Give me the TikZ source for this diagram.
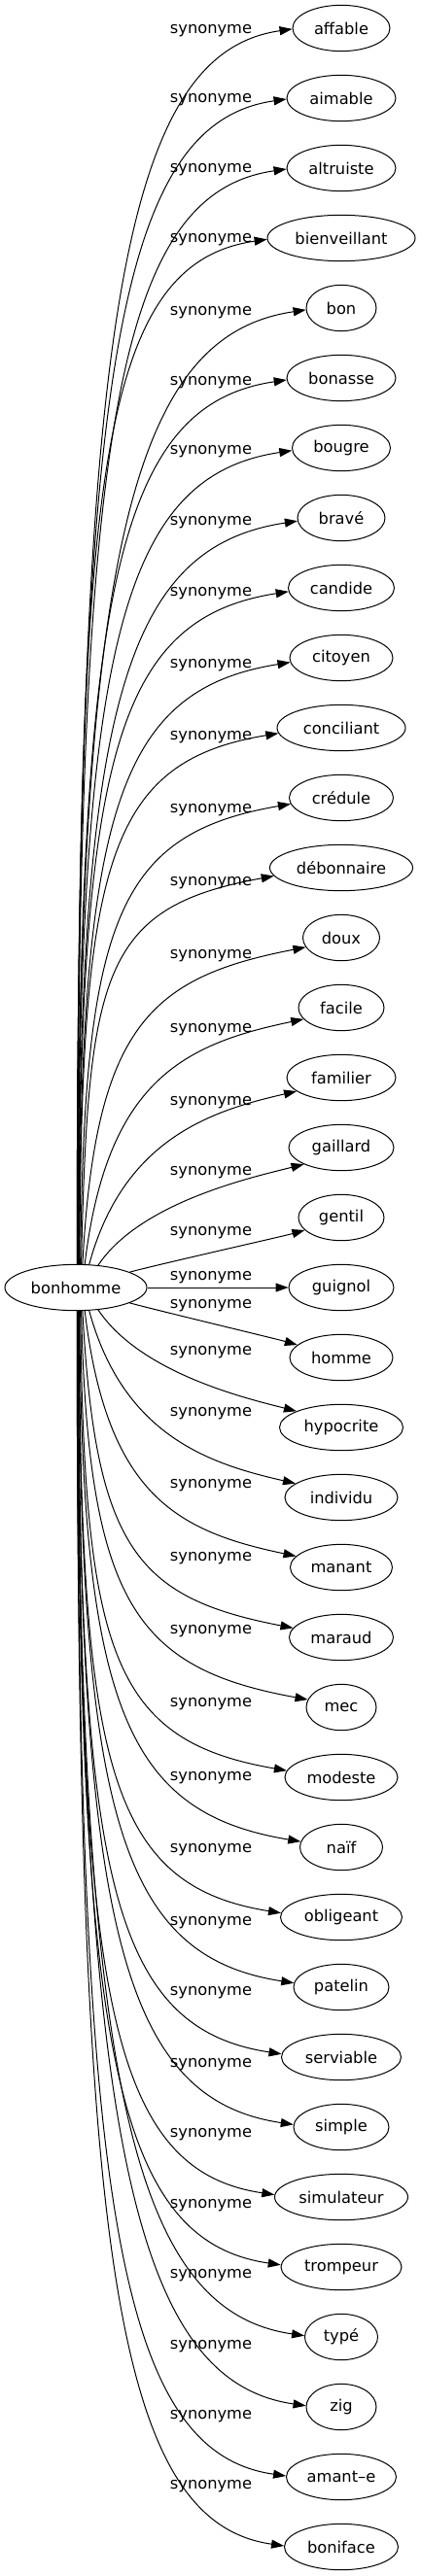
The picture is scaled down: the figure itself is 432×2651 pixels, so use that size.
\documentclass[tikz,border=0pt]{standalone}
\usepackage{fontspec}
\setmainfont{DejaVu Sans}
\usetikzlibrary{shapes.geometric,arrows.meta,calc}
\begin{document}
\begin{tikzpicture}[x=0.75pt,y=-0.75pt,
  every node/.style={font=\fontsize{12.2pt}{14pt}\selectfont},
  term/.style={ellipse,draw,line width=0.75pt,inner sep=0pt,minimum height=35.5pt},
  rel/.style={anchor=base,inner sep=0pt},
  syn/.style={line width=0.75pt,-{Triangle[length=9.75pt,width=6.75pt]}}]
\useasboundingbox (0,0) rectangle (432,2651);
\node[term,minimum width=146*0.75pt] (bonhomme) at (78,1325) {bonhomme};
\foreach \i/\n/\t/\w/\ly in {
 0/affable/affable/100/30, 1/aimable/aimable/112/101, 2/altruiste/altruiste/112/173,
 3/bienveillant/bienveillant/152/245, 4/bon/bon/72/320, 5/bonasse/bonasse/112/392,
 6/bougre/bougre/101/463, 7/brave/bravé/90/536, 8/candide/candide/109/609,
 9/citoyen/citoyen/106/683, 10/conciliant/conciliant/132/757, 11/credule/crédule/107/832,
 12/debonnaire/débonnaire/147/907, 13/doux/doux/79/982, 14/facile/facile/88/1058,
 15/familier/familier/112/1133, 16/gaillard/gaillard/108/1205, 17/gentil/gentil/88/1267,
 18/guignol/guignol/108/1313, 19/homme/homme/106/1342, 20/hypocrite/hypocrite/127/1390,
 21/individu/individu/116/1453, 22/manant/manant/105/1527, 23/maraud/maraud/107/1602,
 24/mec/mec/72/1677, 25/modeste/modeste/116/1752, 26/naif/naïf/85/1828,
 27/obligeant/obligeant/125/1902, 28/patelin/patelin/98/1977, 29/serviable/serviable/123/2049,
 30/simple/simple/98/2123, 31/simulateur/simulateur/137/2195, 32/trompeur/trompeur/124/2268,
 33/type/typé/75/2340, 34/zig/zig/72/2413, 35/amante/amant–e/113/2485,
 36/boniface/boniface/117/2557} {
  \node[term,minimum width=\w*0.75pt] (\n) at (351,29+72*\i) {\t};
  \node[rel] (lab\i) at (217,\ly+4.5) {synonyme};
}
\foreach \i/\n/\w in {
 0/affable/100, 1/aimable/112, 2/altruiste/112, 3/bienveillant/152, 4/bon/72,
 5/bonasse/112, 6/bougre/101, 7/brave/90, 8/candide/109, 9/citoyen/106,
 10/conciliant/132, 11/credule/107, 12/debonnaire/147, 13/doux/79, 14/facile/88,
 15/familier/112, 16/gaillard/108, 17/gentil/88, 18/guignol/108, 19/homme/106,
 20/hypocrite/127, 21/individu/116, 22/manant/105, 23/maraud/107, 24/mec/72,
 25/modeste/116, 26/naif/85, 27/obligeant/125, 28/patelin/98, 29/serviable/123,
 30/simple/98, 31/simulateur/137, 32/trompeur/124, 33/type/75, 34/zig/72,
 35/amante/113, 36/boniface/117} {
  \pgfmathtruncatemacro\kk{\i-18}
  \ifnum\kk=0
    \draw[syn] (bonhomme.east) -- (\n.west);
  \else
    \pgfmathsetmacro\ak{abs(\kk)}
    \pgfmathsetmacro\sg{\kk<0 ? -1 : 1}
    \pgfmathsetmacro\msg{\kk<0 ? 1 : -1}
    \pgfmathsetmacro\eU{55/(\ak^1.3)}
    \pgfmathsetmacro\eSy{23.5*sqrt(1-(\eU/73)^2)}
    \pgfmathsetmacro\sA{atan2(\eSy,\eU)}
    \pgfmathtruncatemacro\sAn{\kk<0 ? \sA+0.5 : 360.5-\sA}
    \pgfmathsetmacro\eOff{24*exp(-\ak/5.5)*min(1,\ak/1.6)}
    \pgfmathsetmacro\eRx{\w/2}
    \pgfmathsetmacro\eXo{\eRx*sqrt(1-(\eOff/23.7)^2)}
    \pgfmathsetmacro\tA{atan2(\eOff,\eXo)}
    \pgfmathtruncatemacro\tAn{\kk<0 ? 180.5+\tA : 180.5-\tA}
    \pgfmathsetmacro\ady{72*\ak-\eOff-\eSy}
    \pgfmathsetmacro\aA{90-75*0.45^(\ak-1)}
    \pgfmathsetmacro\lA{0.75*\ady}
    \pgfmathsetmacro\aB{8+8*exp(-(\ak-1)/4)}
    \pgfmathsetmacro\lB{min(0.5*\ady,180)}
    \pgfmathsetmacro\cax{\lA*cos(\aA)}
    \pgfmathsetmacro\cay{\sg*\lA*sin(\aA)}
    \pgfmathsetmacro\cbx{-\lB*cos(\aB)}
    \pgfmathsetmacro\cby{\msg*\lB*sin(\aB)}
    \draw[syn] (bonhomme.\sAn) .. controls ($(bonhomme.\sAn)+(\cax,\cay)$) and ($(\n.\tAn)+(\cbx,\cby)$) .. (\n.\tAn);
  \fi
}
\end{tikzpicture}
\end{document}
